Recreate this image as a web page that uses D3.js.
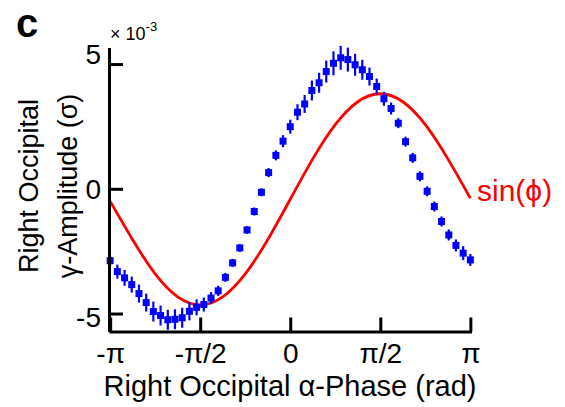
<!DOCTYPE html>
<html><head><meta charset="utf-8">
<script src="https://cdn.jsdelivr.net/npm/d3@7/dist/d3.min.js"></script>
<style>body{margin:0;background:#fff} svg{display:block;font-family:"Liberation Sans",Arial,sans-serif}</style>
</head><body><svg id="c" width="565" height="407"></svg>
<script>
// phase bins (rad)
const phase = [-3.142,-3.016,-2.890,-2.765,-2.639,-2.513,-2.388,-2.262,-2.136,-2.011,
  -1.885,-1.759,-1.634,-1.508,-1.382,-1.257,-1.131,-1.005,-0.880,-0.754,
  -0.628,-0.503,-0.377,-0.251,-0.126,0.000,0.126,0.251,0.377,0.503,
  0.628,0.754,0.880,1.005,1.131,1.257,1.382,1.508,1.634,1.759,
  1.885,2.011,2.136,2.262,2.388,2.513,2.639,2.765,2.890,3.016,3.142];
// gamma amplitude (x 10^-3 sigma)
const amplitude = [-2.88,-3.32,-3.57,-3.84,-4.20,-4.56,-4.92,-5.08,-5.25,-5.23,
  -5.17,-4.91,-4.75,-4.64,-4.38,-4.09,-3.55,-2.97,-2.37,-1.65,
  -0.91,-0.14,0.65,1.34,1.91,2.49,3.07,3.40,3.94,4.25,
  4.70,5.03,5.25,5.18,4.97,4.77,4.50,4.10,3.61,3.22,
  2.63,1.89,1.24,0.50,-0.10,-0.71,-1.31,-1.85,-2.27,-2.58,-2.85];
// standard error (x 10^-3 sigma)
const amplitudeErr = [0.20,0.28,0.32,0.32,0.36,0.36,0.40,0.40,0.40,0.40,
  0.40,0.36,0.32,0.28,0.24,0.20,0.18,0.16,0.16,0.16,
  0.16,0.16,0.18,0.20,0.24,0.28,0.32,0.36,0.40,0.40,
  0.44,0.48,0.48,0.48,0.44,0.40,0.36,0.32,0.28,0.24,
  0.20,0.20,0.20,0.20,0.20,0.20,0.20,0.22,0.24,0.28,0.24];
// reference sine curve
const sinePhase = [-3.142,-2.749,-2.356,-1.963,-1.571,-1.178,-0.785,-0.393,0,
  0.393,0.785,1.178,1.571,1.963,2.356,2.749,3.142];
const sineValue = [-0.50,-2.04,-3.41,-4.33,-4.65,-4.33,-3.41,-2.04,-0.42,
  1.20,2.57,3.49,3.81,3.49,2.57,1.20,-0.38];
const xTickValues = [-Math.PI,-Math.PI/2,0,Math.PI/2,Math.PI];
const xTickLabels = ["-π","-π/2","0","π/2","π"];
const yTickValues = [-5,0,5];
const yTickLabels = ["-5","0","5"];

const svg = d3.select("#c");
const x = d3.scaleLinear().domain([-Math.PI-0.02, Math.PI+0.02]).range([109,471.5]);
const y = d3.scaleLinear().domain([-5.72,5.66]).range([331.5,47.6]);

// red sine
svg.append("path")
  .datum(sinePhase.map((p,i)=>[p,sineValue[i]]))
  .attr("fill","none").attr("stroke","#ff0000").attr("stroke-width",2.8)
  .attr("d", d3.line().x(d=>x(d[0])).y(d=>y(d[1])).curve(d3.curveNatural));

// error bars + markers
const pts = svg.append("g");
phase.forEach((p,i)=>{
  const cx = x(p), v = amplitude[i], e = amplitudeErr[i];
  pts.append("line").attr("x1",cx).attr("x2",cx)
    .attr("y1",y(v-e)).attr("y2",y(v+e))
    .attr("stroke","#0000ff").attr("stroke-width",2.2);
  pts.append("rect").attr("x",cx-3.5).attr("y",y(v)-3.5)
    .attr("width",7).attr("height",7).attr("fill","#0000ff");
});

// axes
const xAxis = d3.axisBottom(x).tickValues(xTickValues)
  .tickFormat((d,i)=>xTickLabels[i]).tickSize(-14).tickSizeOuter(0).tickPadding(12);
const gx = svg.append("g").attr("transform",`translate(0,${y(-5.72)})`).call(xAxis);
const yAxis = d3.axisLeft(y).tickValues(yTickValues)
  .tickFormat((d,i)=>yTickLabels[i]).tickSize(-14).tickSizeOuter(0).tickPadding(8);
const gy = svg.append("g").attr("transform",`translate(${x(-Math.PI-0.02)},0)`).call(yAxis);
[gx,gy].forEach(g=>{
  g.select(".domain").attr("stroke","#000").attr("stroke-width",3);
  g.selectAll(".tick line").attr("stroke","#000").attr("stroke-width",3);
  g.selectAll(".tick text").attr("fill","#000").style("font-size","28px")
   .style("font-family","'Liberation Sans',Arial,sans-serif");
});
gx.selectAll(".tick text").attr("dy","0.68em");
gy.selectAll(".tick text").attr("dy",(d)=> d===5 ? "-0.02em" : d===-5 ? "0.45em" : "0.34em");

// axis labels
svg.append("text").attr("x",290).attr("y",396).attr("text-anchor","middle")
  .style("font-size","29px").text("Right Occipital α-Phase (rad)");
const yl = svg.append("text").attr("transform","translate(38,186) rotate(-90)")
  .attr("text-anchor","middle").style("font-size","27px");
yl.append("tspan").attr("x",0).attr("y",0).text("Right Occipital");
yl.append("tspan").attr("x",0).attr("y",39).text("γ-Amplitude (σ)");

// exponent label
const ex = svg.append("text").attr("x",110).attr("y",40).style("font-size","18px");
ex.append("tspan").text("× 10");
ex.append("tspan").attr("dy",-9).style("font-size","13px").text("-3");

// panel letter
svg.append("text").attr("x",16).attr("y",37).style("font-size","40px")
  .style("font-weight","900").text("c");

// sine label
svg.append("text").attr("x",477).attr("y",201).attr("fill","#ff0000")
  .style("font-size","30px").text("sin(ϕ)");
</script></body></html>
